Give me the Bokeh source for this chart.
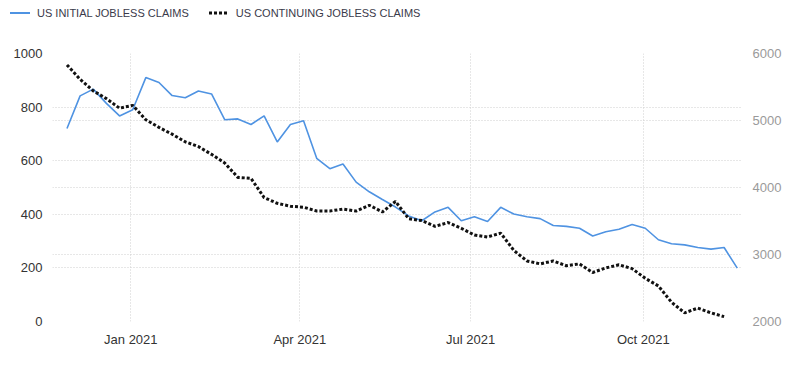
import pandas as pd
from bokeh.plotting import figure
from bokeh.layouts import column
from bokeh.models import (ColumnDataSource, Range1d, LinearAxis, FixedTicker,
                          DatetimeTickFormatter, Grid, Div)
from bokeh.embed import file_html
from bokeh.resources import INLINE

dates = ["2020-11-28", "2020-12-05", "2020-12-12", "2020-12-19", "2020-12-26",
         "2021-01-02", "2021-01-09", "2021-01-16", "2021-01-23", "2021-01-30",
         "2021-02-06", "2021-02-13", "2021-02-20", "2021-02-27", "2021-03-06",
         "2021-03-13", "2021-03-20", "2021-03-27", "2021-04-03", "2021-04-10",
         "2021-04-17", "2021-04-24", "2021-05-01", "2021-05-08", "2021-05-15",
         "2021-05-22", "2021-05-29", "2021-06-05", "2021-06-12", "2021-06-19",
         "2021-06-26", "2021-07-03", "2021-07-10", "2021-07-17", "2021-07-24",
         "2021-07-31", "2021-08-07", "2021-08-14", "2021-08-21", "2021-08-28",
         "2021-09-04", "2021-09-11", "2021-09-18", "2021-09-25", "2021-10-02",
         "2021-10-09", "2021-10-16", "2021-10-23", "2021-10-30", "2021-11-06",
         "2021-11-13", "2021-11-20"]

initial_claims = [720, 842, 867, 814, 767, 790, 910, 892, 843, 835,
                  860, 849, 753, 756, 735, 767, 670, 735, 749, 609,
                  570, 588, 520, 484, 455, 427, 394, 376, 409, 426,
                  376, 391, 373, 426, 401, 391, 384, 358, 355, 348,
                  319, 335, 344, 362, 348, 305, 290, 286, 276, 270,
                  276, 199]

continuing_claims = [5830, 5614, 5442, 5327, 5184, 5226, 5011, 4897, 4796, 4682,
                     4610, 4495, 4366, 4151, 4137, 3850, 3764, 3721, 3706, 3649,
                     3649, 3678, 3649, 3735, 3635, 3792, 3534, 3506, 3420, 3477,
                     3391, 3291, 3262, 3319, 3061, 2904, 2860, 2904, 2832, 2860,
                     2731, 2800, 2846, 2789, 2645, 2530, 2287, 2129, 2200, 2129,
                     2072]

x_tick_dates = ["2021-01-01", "2021-04-01", "2021-07-01", "2021-10-01"]
left_ticks = [0, 200, 400, 600, 800, 1000]
right_ticks = [2000, 3000, 4000, 5000, 6000]

series_names = ["US INITIAL JOBLESS CLAIMS", "US CONTINUING JOBLESS CLAIMS"]

d = pd.to_datetime(dates)
src_init = ColumnDataSource(dict(x=d, y=initial_claims))
src_cont = ColumnDataSource(dict(x=d[:len(continuing_claims)], y=continuing_claims))

FONT = "Liberation Sans"
BLUE = "#4f93e2"
BLACK = "#111111"
W = 784

# ---- legend strip (HTML) ----
sw_blue = ('<svg width="20" height="6" style="display:block">'
           f'<line x1="0" y1="3" x2="20" y2="3" stroke="{BLUE}" stroke-width="2"/></svg>')
sw_black = ('<svg width="20" height="6" style="display:block">'
            f'<line x1="0" y1="3" x2="20" y2="3" stroke="{BLACK}" stroke-width="3" '
            'stroke-dasharray="3 2"/></svg>')
legend_html = (
    f'<div style="display:flex;align-items:center;height:16px;padding:10px 0 0 10px;'
    f'font-family:\'{FONT}\';font-size:11px;color:#3a3a4a;white-space:nowrap;line-height:16px">'
    f'{sw_blue}<span style="margin-left:7px">{series_names[0]}</span>'
    f'<span style="margin-left:20px">{sw_black}</span>'
    f'<span style="margin-left:7px">{series_names[1]}</span></div>'
)
legend_div = Div(text=legend_html, width=W, height=30, margin=(0, 0, 0, 0))

# ---- main chart ----
p = figure(width=W, height=319, x_axis_type="datetime",
           output_backend="svg", toolbar_location=None,
           x_range=Range1d(pd.Timestamp("2020-11-20 07:00"), pd.Timestamp("2021-11-22 19:00")),
           y_range=Range1d(0, 1000),
           min_border_left=52, min_border_right=36, min_border_top=23, min_border_bottom=21)
p.outline_line_color = None
p.background_fill_color = "white"

p.extra_y_ranges = {"right": Range1d(2000, 6000)}

xticks = [pd.Timestamp(t).value // 10**6 for t in x_tick_dates]
p.xaxis.ticker = FixedTicker(ticks=xticks)
fmt = "%b %Y"
p.xaxis.formatter = DatetimeTickFormatter(days=fmt, months=fmt, years=fmt, hours=fmt,
                                          minutes=fmt, seconds=fmt, milliseconds=fmt,
                                          microseconds=fmt, hourmin=fmt, minsec=fmt)
p.yaxis.ticker = FixedTicker(ticks=left_ticks)

right_axis = LinearAxis(y_range_name="right", ticker=FixedTicker(ticks=right_ticks))
p.add_layout(right_axis, "right")

for ax, col in ((p.xaxis[0], "#333333"), (p.yaxis[0], "#333333"), (right_axis, "#9a9a9a")):
    ax.axis_line_color = None
    ax.major_tick_line_color = None
    ax.minor_tick_line_color = None
    ax.major_label_text_font = FONT
    ax.major_label_text_font_size = "13px"
    ax.major_label_text_color = col
    ax.major_label_standoff = 4
p.xaxis.major_label_standoff = 4

grid_style = dict(grid_line_color="#cfcfcf", grid_line_dash="1 2", grid_line_width=1)
p.xgrid.ticker = FixedTicker(ticks=xticks)
p.ygrid.ticker = FixedTicker(ticks=left_ticks)
for g in (p.xgrid[0], p.ygrid[0]):
    for k, v in grid_style.items():
        setattr(g, k, v)
rgrid = Grid(dimension=1, ticker=FixedTicker(ticks=right_ticks), y_range_name="right", **grid_style)
p.add_layout(rgrid)

p.line("x", "y", source=src_init, line_color=BLUE, line_width=1.6)
p.line("x", "y", source=src_cont, y_range_name="right", line_color=BLACK,
       line_width=3, line_dash="3 2")

layout = column(legend_div, p, spacing=0)
open("out.html", "w").write(file_html(layout, INLINE))
